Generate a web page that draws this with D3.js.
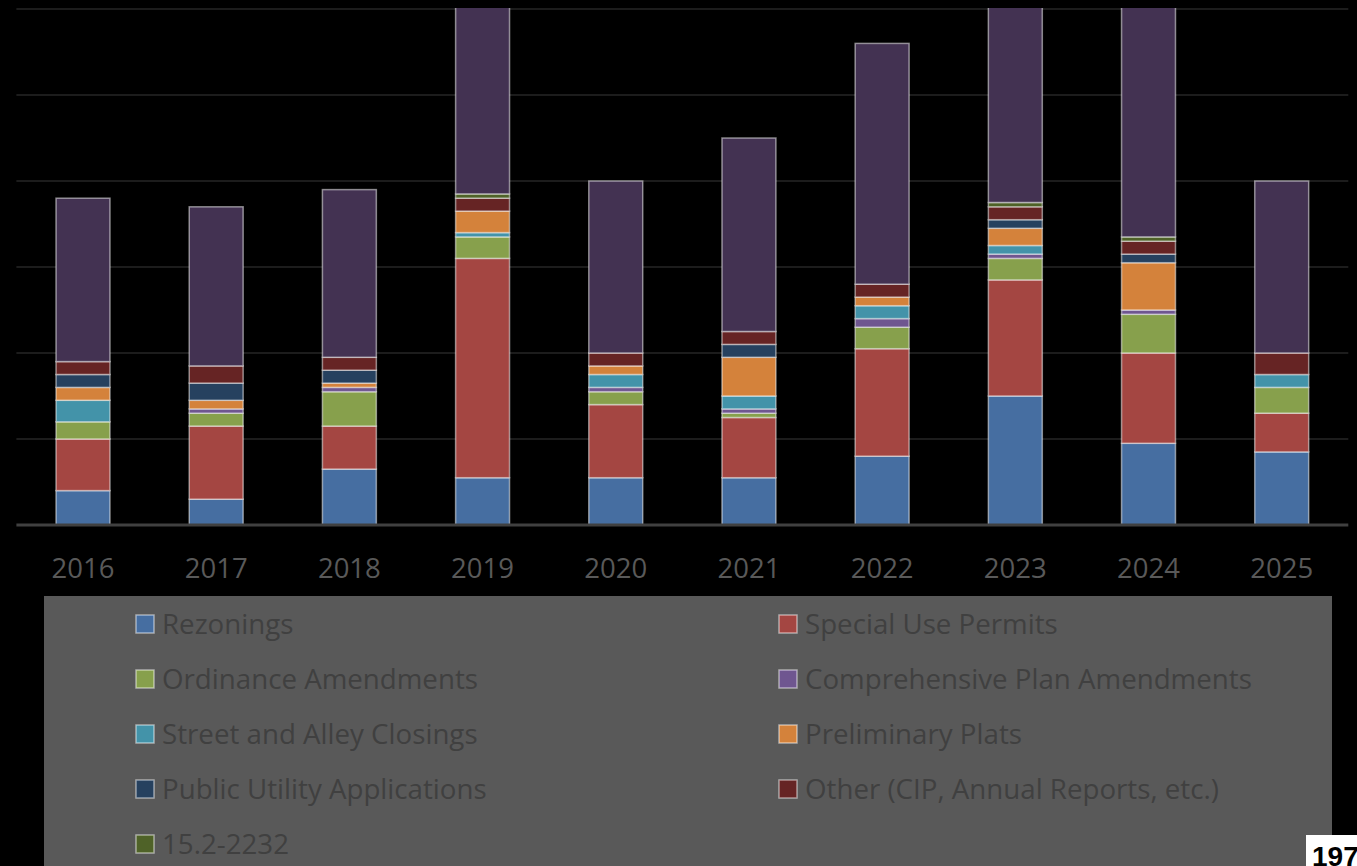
<!DOCTYPE html>
<html>
<head>
<meta charset="utf-8">
<script src="https://cdn.jsdelivr.net/npm/d3@7"></script>
<style>
  body { margin: 0; background: #000; }
  svg { display: block; }
</style>
</head>
<body>
<svg id="chart"></svg>
<script>
// data, stacked bottom to top
const years = ["2016", "2017", "2018", "2019", "2020", "2021", "2022", "2023", "2024", "2025"];
const rezonings      = [8, 6, 13, 11, 11, 11, 16, 30, 19, 17];
const specialUse     = [12, 17, 10, 51, 17, 14, 25, 27, 21, 9];
const ordinanceAmend = [4, 3, 8, 5, 3, 1, 5, 5, 9, 6];
const compPlanAmend  = [0, 1, 1, 0, 1, 1, 2, 1, 1, 0];
const streetAlley    = [5, 0, 0, 1, 3, 3, 3, 2, 0, 3];
const prelimPlats    = [3, 2, 1, 5, 2, 9, 2, 4, 11, 0];
const publicUtility  = [3, 4, 3, 0, 0, 3, 0, 2, 2, 0];
const otherItems     = [3, 4, 3, 3, 3, 3, 3, 3, 3, 5];
const code2232       = [0, 0, 0, 1, 0, 0, 0, 1, 1, 0];
const unlisted       = [38, 37, 39, 52, 40, 45, 56, 55, 60, 40]; // top series, not in legend
const yTicks = [0, 20, 40, 60, 80, 100, 120];

const seriesNames = ["Rezonings", "Special Use Permits", "Ordinance Amendments",
    "Comprehensive Plan Amendments", "Street and Alley Closings", "Preliminary Plats",
    "Public Utility Applications", "Other (CIP, Annual Reports, etc.)", "15.2-2232", "Unlisted"];
const seriesValues = [rezonings, specialUse, ordinanceAmend, compPlanAmend, streetAlley,
    prelimPlats, publicUtility, otherItems, code2232, unlisted];
const colors = ["#466ea1", "#a44642", "#87a04c", "#6f5690", "#4393a9",
    "#d4823b", "#26415f", "#662424", "#4f6228", "#433252"];

function stacked_chart(wrapper) {
    const width = 1357, height = 866;
    const plot = ({left: 16.4, right: 1348.3, top: 9, bottom: 525});

    const data = years.map((yr, i) => {
        const row = {year: yr};
        seriesNames.forEach((n, k) => row[n] = seriesValues[k][i]);
        return row;
    });

    const series = d3.stack().keys(seriesNames)(data)
        .map(d => (d.forEach(v => v.key = d.key), d));

    const x = d3.scaleBand()
        .domain(years)
        .range([plot.left, plot.right])
        .paddingInner(0.595)
        .paddingOuter(0.2975);

    const y = d3.scaleLinear()
        .domain([0, 120])
        .range([plot.bottom, plot.top]);

    const color = d3.scaleOrdinal().domain(seriesNames).range(colors);

    const svg = d3.select(wrapper)
        .attr("width", width)
        .attr("height", height)
        .attr("viewBox", [0, 0, width, height]);

    svg.append("rect").attr("width", width).attr("height", height).attr("fill", "#000");

    svg.append("clipPath").attr("id", "plotclip")
        .append("rect")
        .attr("x", 0).attr("y", plot.top - 1)
        .attr("width", width).attr("height", plot.bottom - plot.top + 1);

    // gridlines
    svg.append("g")
        .selectAll("line")
        .data(yTicks.slice(1))
        .join("line")
        .attr("x1", plot.left).attr("x2", plot.right)
        .attr("y1", d => y(d)).attr("y2", d => y(d))
        .attr("stroke", "#262626")
        .attr("stroke-width", 1.3);

    // bars
    svg.append("g")
        .attr("clip-path", "url(#plotclip)")
        .selectAll("g")
        .data(series)
        .join("g")
        .attr("fill", d => color(d.key))
        .selectAll("rect")
        .data(d => d.filter(v => v[1] - v[0] > 0))
        .join("rect")
        .attr("x", d => x(d.data.year))
        .attr("y", d => y(d[1]))
        .attr("width", x.bandwidth())
        .attr("height", d => y(d[0]) - y(d[1]))
        .attr("stroke", "rgba(255,255,255,0.5)")
        .attr("stroke-width", 1.5);

    // baseline
    svg.append("line")
        .attr("x1", plot.left).attr("x2", plot.right)
        .attr("y1", y(0)).attr("y2", y(0))
        .attr("stroke", "#404040")
        .attr("stroke-width", 3);

    // year labels
    const xAxis = g => g
        .attr("transform", `translate(0,${plot.bottom + 43})`)
        .call(d3.axisBottom(x).tickSize(0).tickPadding(0))
        .call(g => g.select(".domain").remove())
        .call(g => g.selectAll("text")
            .attr("fill", "#595959")
            .attr("dy", "0.35em")
            .style("font-size", "27.5px")
            .style("font-family", "'Open Sans', sans-serif"));
    svg.append("g").call(xAxis);

    // legend box
    svg.append("rect")
        .attr("x", 44).attr("y", 596)
        .attr("width", 1288).attr("height", 280)
        .attr("fill", "#595959");

    const legendItems = seriesNames.slice(0, 9);
    const legend = svg.append("g")
        .selectAll("g")
        .data(legendItems)
        .join("g")
        .attr("transform", (d, i) => `translate(${i % 2 === 0 ? 136 : 779},${624 + Math.floor(i / 2) * 55})`);

    legend.append("rect")
        .attr("x", 0).attr("y", -9)
        .attr("width", 18).attr("height", 18)
        .attr("fill", d => color(d))
        .attr("stroke", "rgba(255,255,255,0.5)")
        .attr("stroke-width", 1.5);

    legend.append("text")
        .attr("x", 26)
        .attr("y", 0)
        .attr("dy", "0.35em")
        .attr("fill", "#404040")
        .style("font-size", "27.7px")
        .style("font-family", "'Open Sans', sans-serif")
        .text(d => d);

    // page number box
    svg.append("rect")
        .attr("x", 1306).attr("y", 835)
        .attr("width", 60).attr("height", 40)
        .attr("fill", "#fff");
    svg.append("text")
        .attr("x", 1312).attr("y", 866)
        .attr("fill", "#000")
        .style("font", "bold 28px 'Liberation Sans', Arial, sans-serif")
        .text("197");

    return svg.node();
}

stacked_chart("#chart");
</script>
</body>
</html>
